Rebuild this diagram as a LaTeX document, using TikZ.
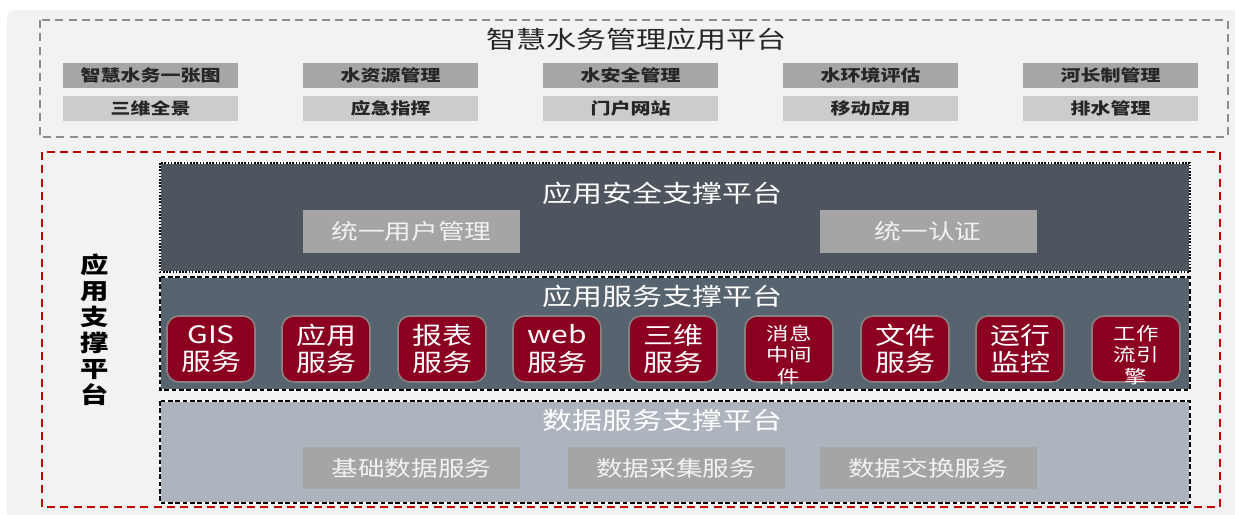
\documentclass[tikz,border=0pt]{standalone}
\usepackage{fontspec}
\setmainfont[FakeStretch=1.25]{Noto Sans CJK SC}
\definecolor{bgc}{HTML}{F2F2F2}
\definecolor{dgray}{HTML}{8C8C8C}
\definecolor{rowa}{HTML}{A6A6A6}
\definecolor{rowb}{HTML}{CCCCCC}
\definecolor{redd}{HTML}{C00000}
\definecolor{secc}{HTML}{4E555E}
\definecolor{appc}{HTML}{57636F}
\definecolor{datac}{HTML}{ADB4BD}
\definecolor{innerc}{HTML}{A5A5A5}
\definecolor{svcred}{HTML}{8B0021}
\definecolor{svcborder}{HTML}{8A8080}
\definecolor{txtc}{HTML}{262626}
\begin{document}
\begin{tikzpicture}[x=0.75pt,y=-0.75pt,
  topbox/.style={minimum width=175*0.75pt, minimum height=25*0.75pt, inner sep=0pt,
     font=\fontsize{12pt}{14pt}\selectfont\bfseries, text=txtc},
  rowone/.style={topbox, fill=rowa},
  rowtwo/.style={topbox, fill=rowb},
  ptitle/.style={text=white, font=\fontsize{18pt}{20pt}\selectfont, inner sep=0pt},
  innerbox/.style={fill=innerc, minimum width=217*0.75pt, minimum height=43*0.75pt, inner sep=0pt,
     text=white!95!black, font=\fontsize{16pt}{18pt}\selectfont},
  svcbox/.style={fill=svcred, draw=svcborder, line width=1.2pt, rounded corners=9pt,
     minimum width=88*0.75pt, minimum height=66*0.75pt, inner sep=0pt, text=white,
     align=center, font=\fontsize{18pt}{20.5pt}\selectfont},
  svcsmalltext/.style={inner sep=0pt, text=white, align=center, font=\fontsize{13.5pt}{16pt}\selectfont}
]
\useasboundingbox (0,0) rectangle (1235,514);
% background
\fill[white] (0,0) rectangle (1235,514);
\fill[bgc, rounded corners=6pt] (7,10) rectangle (1240,520);

% top application platform
\draw[dgray, line width=1.2pt, dash pattern=on 6pt off 4pt] (40,20) rectangle (1228,137);
\node[inner sep=0pt, font=\fontsize{18pt}{20pt}\selectfont, text=txtc] (toptitle) at (636,39) {智慧水务管理应用平台};

\node[rowone] (a1) at (150.5,75.5) {智慧水务一张图};
\node[rowone] (a2) at (390.5,75.5) {水资源管理};
\node[rowone] (a3) at (630.5,75.5) {水安全管理};
\node[rowone] (a4) at (870.5,75.5) {水环境评估};
\node[rowone] (a5) at (1110.5,75.5) {河长制管理};
\node[rowtwo] (b1) at (150.5,108.5) {三维全景};
\node[rowtwo] (b2) at (390.5,108.5) {应急指挥};
\node[rowtwo] (b3) at (630.5,108.5) {门户网站};
\node[rowtwo] (b4) at (870.5,108.5) {移动应用};
\node[rowtwo] (b5) at (1110.5,108.5) {排水管理};

% support platform
\draw[redd, line width=1.5pt, dash pattern=on 6pt off 4pt] (42,152) rectangle (1220,507);
\node[align=center, inner sep=0pt, font=\fontsize{17pt}{19.5pt}\selectfont\bfseries, text=black] (sidelabel) at (95,330)
  {应\\用\\支\\撑\\平\\台};

% security platform
\fill[secc] (160,163) rectangle (1190,272);
\draw[white, line width=1.2pt] (160,163) rectangle (1190,272);
\draw[black, line width=1.2pt, dash pattern=on 1.2pt off 1.2pt] (160,163) rectangle (1190,272);
\node[ptitle] (sectitle) at (662,193) {应用安全支撑平台};
\node[innerbox] (s1) at (411.5,231.5) {统一用户管理};
\node[innerbox] (s2) at (928,231.5) {统一认证};

% application service platform
\fill[appc] (160,277) rectangle (1190,390);
\draw[white, line width=1.2pt] (160,277) rectangle (1190,390);
\draw[black, line width=1.2pt, dash pattern=on 3.5pt off 2pt] (160,277) rectangle (1190,390);
\node[ptitle] (apptitle) at (662,296) {应用服务支撑平台};
\node[svcbox] (v1) at (211,349) {GIS\\服务};
\node[svcbox] (v2) at (326,349) {应用\\服务};
\node[svcbox] (v3) at (442,349) {报表\\服务};
\node[svcbox] (v4) at (557,349) {web\\服务};
\node[svcbox] (v5) at (673,349) {三维\\服务};
\node[svcbox] (v6) at (789,349) {};
\node[svcsmalltext] (v6t) at (789,355) {消息\\中间\\件};
\node[svcbox] (v7) at (905,349) {文件\\服务};
\node[svcbox] (v8) at (1020,349) {运行\\监控};
\node[svcbox] (v9) at (1136,349) {};
\node[svcsmalltext] (v9t) at (1136,355) {工作\\流引\\擎};

% data service platform
\fill[datac] (160,401) rectangle (1190,503);
\draw[white, line width=1.2pt] (160,401) rectangle (1190,503);
\draw[black, line width=1.2pt, dash pattern=on 3.5pt off 2pt] (160,401) rectangle (1190,503);
\node[ptitle] (datatitle) at (662,420) {数据服务支撑平台};
\node[innerbox, minimum height=42*0.75pt] (d1) at (411.5,468) {基础数据服务};
\node[innerbox, minimum height=42*0.75pt] (d2) at (676,468) {数据采集服务};
\node[innerbox, minimum height=42*0.75pt] (d3) at (928,468) {数据交换服务};
\end{tikzpicture}
\end{document}
